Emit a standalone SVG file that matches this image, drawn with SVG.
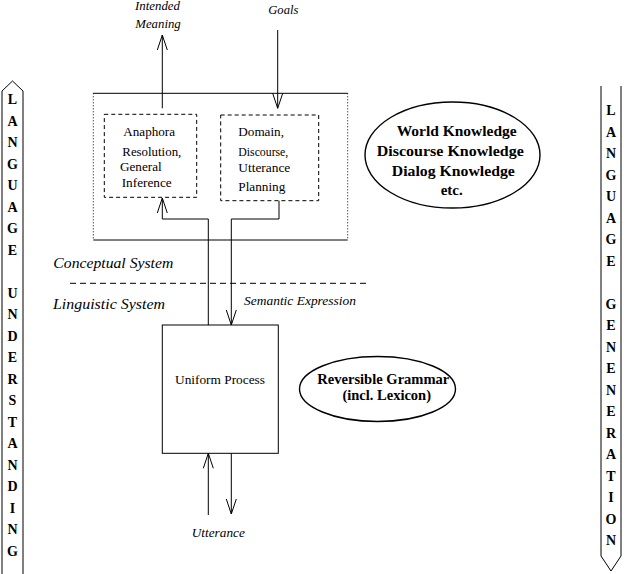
<svg xmlns="http://www.w3.org/2000/svg" width="626" height="574" viewBox="0 0 626 574">
<style>
  .ln{fill:none;stroke:#000;stroke-width:1}
  .dash{fill:none;stroke:#000;stroke-width:1;stroke-dasharray:4,3}
  .dot{fill:none;stroke:#000;stroke-width:1;stroke-dasharray:1,2}
  .ell{fill:none;stroke:#000;stroke-width:1.4}
  .it{font-family:"Liberation Serif",serif;font-style:italic;font-size:12px;fill:#000}
  .itb{font-family:"Liberation Serif",serif;font-style:italic;font-size:14px;fill:#000}
  .rm{font-family:"Liberation Serif",serif;font-size:12px;fill:#000}
  .rm13{font-family:"Liberation Serif",serif;font-size:13px;fill:#000}
  .bd{font-family:"Liberation Serif",serif;font-weight:bold;font-size:15px;fill:#000}
  .bd2{font-family:"Liberation Serif",serif;font-weight:bold;font-size:14.5px;fill:#000}
  .ban{font-family:"Liberation Serif",serif;font-weight:bold;font-size:14px;fill:#000;text-anchor:middle}
</style>
<defs>
  <marker id="ah" markerUnits="userSpaceOnUse" markerWidth="20" markerHeight="14" refX="15" refY="5" orient="auto" overflow="visible">
    <path d="M0,0 L15,5 L0,10" fill="none" stroke="#000" stroke-width="1"/>
  </marker>
</defs>
<rect width="626" height="574" fill="#fff"/>

<g id="banner-left">
  <polyline class="ln" points="2,580 2,91 12.5,81 23,91 23,580"/>
  <text class="ban" x="12.5" y="104">L</text>
  <text class="ban" x="12.5" y="125.5">A</text>
  <text class="ban" x="12.5" y="147">N</text>
  <text class="ban" x="12.5" y="168.5">G</text>
  <text class="ban" x="12.5" y="190">U</text>
  <text class="ban" x="12.5" y="211.5">A</text>
  <text class="ban" x="12.5" y="233">G</text>
  <text class="ban" x="12.5" y="254.5">E</text>
  <text class="ban" x="12.5" y="297.5">U</text>
  <text class="ban" x="12.5" y="319">N</text>
  <text class="ban" x="12.5" y="340.5">D</text>
  <text class="ban" x="12.5" y="362">E</text>
  <text class="ban" x="12.5" y="383.5">R</text>
  <text class="ban" x="12.5" y="405">S</text>
  <text class="ban" x="12.5" y="426.5">T</text>
  <text class="ban" x="12.5" y="448">A</text>
  <text class="ban" x="12.5" y="469.5">N</text>
  <text class="ban" x="12.5" y="491">D</text>
  <text class="ban" x="12.5" y="512.5">I</text>
  <text class="ban" x="12.5" y="534">N</text>
  <text class="ban" x="12.5" y="555.5">G</text>
</g>

<g id="banner-right">
  <polyline class="ln" points="601,86 601,556 611,571 621,556 621,86"/>
  <text class="ban" x="611" y="115">L</text>
  <text class="ban" x="611" y="136.5">A</text>
  <text class="ban" x="611" y="158">N</text>
  <text class="ban" x="611" y="179.5">G</text>
  <text class="ban" x="611" y="201">U</text>
  <text class="ban" x="611" y="222.5">A</text>
  <text class="ban" x="611" y="244">G</text>
  <text class="ban" x="611" y="265.5">E</text>
  <text class="ban" x="611" y="308.5">G</text>
  <text class="ban" x="611" y="330">E</text>
  <text class="ban" x="611" y="351.5">N</text>
  <text class="ban" x="611" y="373">E</text>
  <text class="ban" x="611" y="394.5">N</text>
  <text class="ban" x="611" y="416">E</text>
  <text class="ban" x="611" y="437.5">R</text>
  <text class="ban" x="611" y="459">A</text>
  <text class="ban" x="611" y="480.5">T</text>
  <text class="ban" x="611" y="502">I</text>
  <text class="ban" x="611" y="523.5">O</text>
  <text class="ban" x="611" y="545">N</text>
</g>

<g id="conceptual-box">
  <line class="ln" x1="93.3" y1="93.3" x2="347.7" y2="93.3"/>
  <line class="ln" x1="93.3" y1="240" x2="347.7" y2="240"/>
  <line class="dot" x1="93.3" y1="93.3" x2="93.3" y2="240"/>
  <line class="dot" x1="347.7" y1="93.3" x2="347.7" y2="240"/>
</g>

<g id="anaphora">
  <rect class="dash" x="104.3" y="114.3" width="92.4" height="83"/>
  <text class="rm" x="123.3" y="135.5" textLength="51.7" lengthAdjust="spacingAndGlyphs">Anaphora</text>
  <text class="rm" x="122.3" y="155.5" textLength="59" lengthAdjust="spacingAndGlyphs">Resolution,</text>
  <text class="rm" x="120" y="170.5" textLength="41.7" lengthAdjust="spacingAndGlyphs">General</text>
  <text class="rm" x="121.7" y="187" textLength="50" lengthAdjust="spacingAndGlyphs">Inference</text>
</g>

<g id="planning">
  <rect class="dash" x="220.7" y="115" width="98" height="85.7"/>
  <text class="rm" x="238.3" y="135.5" textLength="45.7" lengthAdjust="spacingAndGlyphs">Domain,</text>
  <text class="rm" x="238.3" y="156" textLength="50" lengthAdjust="spacingAndGlyphs">Discourse,</text>
  <text class="rm" x="238.3" y="172" textLength="52" lengthAdjust="spacingAndGlyphs">Utterance</text>
  <text class="rm" x="238.3" y="191" textLength="47" lengthAdjust="spacingAndGlyphs">Planning</text>
</g>

<g id="knowledge">
  <ellipse class="ell" cx="452.5" cy="155" rx="87.5" ry="53"/>
  <text class="bd" x="456.7" y="136" text-anchor="middle" textLength="120" lengthAdjust="spacingAndGlyphs">World Knowledge</text>
  <text class="bd" x="450.3" y="156" text-anchor="middle" textLength="147" lengthAdjust="spacingAndGlyphs">Discourse Knowledge</text>
  <text class="bd" x="453.3" y="175.5" text-anchor="middle" textLength="123" lengthAdjust="spacingAndGlyphs">Dialog Knowledge</text>
  <text class="bd" x="451.7" y="194.5" text-anchor="middle">etc.</text>
</g>

<g id="separator">
  <line class="ln" x1="70" y1="283.3" x2="370" y2="283.3" stroke-dasharray="6,4"/>
  <text class="itb" x="53.3" y="268" textLength="120" lengthAdjust="spacingAndGlyphs">Conceptual System</text>
  <text class="itb" x="53" y="309" textLength="112" lengthAdjust="spacingAndGlyphs">Linguistic System</text>
</g>

<g id="uniform-process">
  <rect class="ln" x="162.3" y="325" width="116" height="128.3"/>
  <text class="rm13" x="220" y="383.5" text-anchor="middle" textLength="90" lengthAdjust="spacingAndGlyphs">Uniform Process</text>
</g>

<g id="grammar">
  <ellipse class="ell" cx="377.5" cy="389" rx="78" ry="32.5"/>
  <text class="bd2" x="383.3" y="384" text-anchor="middle" textLength="132" lengthAdjust="spacingAndGlyphs">Reversible Grammar</text>
  <text class="bd2" x="386.7" y="400" text-anchor="middle">(incl. Lexicon)</text>
</g>

<g id="labels">
  <text class="it" x="157.5" y="10" text-anchor="middle" textLength="45" lengthAdjust="spacingAndGlyphs">Intended</text>
  <text class="it" x="158" y="27.5" text-anchor="middle" textLength="45.5" lengthAdjust="spacingAndGlyphs">Meaning</text>
  <text class="it" x="283.3" y="14" text-anchor="middle" textLength="30" lengthAdjust="spacingAndGlyphs">Goals</text>
  <text class="it" x="244" y="305" textLength="112" lengthAdjust="spacingAndGlyphs">Semantic Expression</text>
  <text class="it" x="218.3" y="537" text-anchor="middle" textLength="53" lengthAdjust="spacingAndGlyphs">Utterance</text>
</g>

<g id="connectors">
  <line class="ln" x1="162.3" y1="108.3" x2="162.3" y2="35" marker-end="url(#ah)"/>
  <line class="ln" x1="277.7" y1="30" x2="277.7" y2="108.3" marker-end="url(#ah)"/>
  <polyline class="ln" points="208.3,325 208.3,219 162.3,219 162.3,198" marker-end="url(#ah)"/>
  <polyline class="ln" points="279,200.7 279,219 231.3,219 231.3,325" marker-end="url(#ah)"/>
  <line class="ln" x1="208.3" y1="515" x2="208.3" y2="453.3" marker-end="url(#ah)"/>
  <line class="ln" x1="231.3" y1="453.3" x2="231.3" y2="514" marker-end="url(#ah)"/>
</g>
</svg>
